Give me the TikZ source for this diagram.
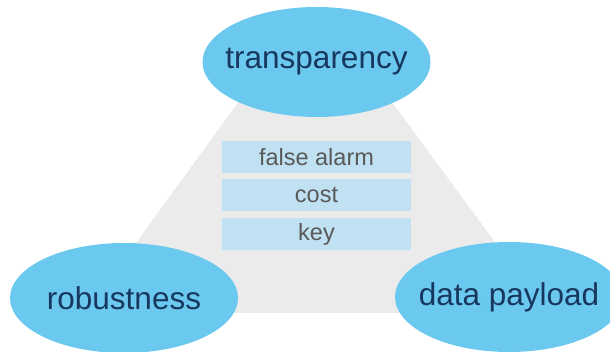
\documentclass[tikz,border=0pt]{standalone}
\usepackage{fontspec}
\setmainfont{Liberation Sans}
\usetikzlibrary{shapes.geometric}
\definecolor{bgtri}{HTML}{EBEBEB}
\definecolor{ellfill}{HTML}{6BC8EF}
\definecolor{elltext}{HTML}{17375E}
\definecolor{boxfill}{HTML}{C0E1F2}
\definecolor{boxtext}{HTML}{595959}
\tikzset{
  pillar/.style={ellipse, fill=ellfill, draw=none, minimum width=228pt, minimum height=110pt, inner sep=0pt},
  pillartext/.style={text=elltext, font=\fontsize{31.5}{36}\selectfont, inner sep=0pt},
  factor/.style={rectangle, fill=boxfill, draw=none, minimum width=189pt, minimum height=32pt, inner sep=0pt,
    text=boxtext, font=\fontsize{23.5}{27}\selectfont}
}
\begin{document}
\begin{tikzpicture}[x=1pt,y=-1pt]
\useasboundingbox (0,0) rectangle (610,352);
\fill[bgtri] (269,60) -- (361,60) -- (547,313) -- (85,313) -- cycle;
\node[factor] (fa) at (316.5,157) {false alarm};
\node[factor] (co) at (316.5,195.5) {cost};
\node[factor] (ke) at (316.5,234) {key};
\node[pillar] (tr) at (316.5,62) {};
\node[pillar] (ro) at (124,298) {};
\node[pillar] (dp) at (509,297) {};
\node[pillartext] (trl) at (tr.center) {transparency};
\node[pillartext] (rol) at (ro.center) {robustness};
\node[pillartext] (dpl) at (dp.center) {data payload};
\end{tikzpicture}
\end{document}
